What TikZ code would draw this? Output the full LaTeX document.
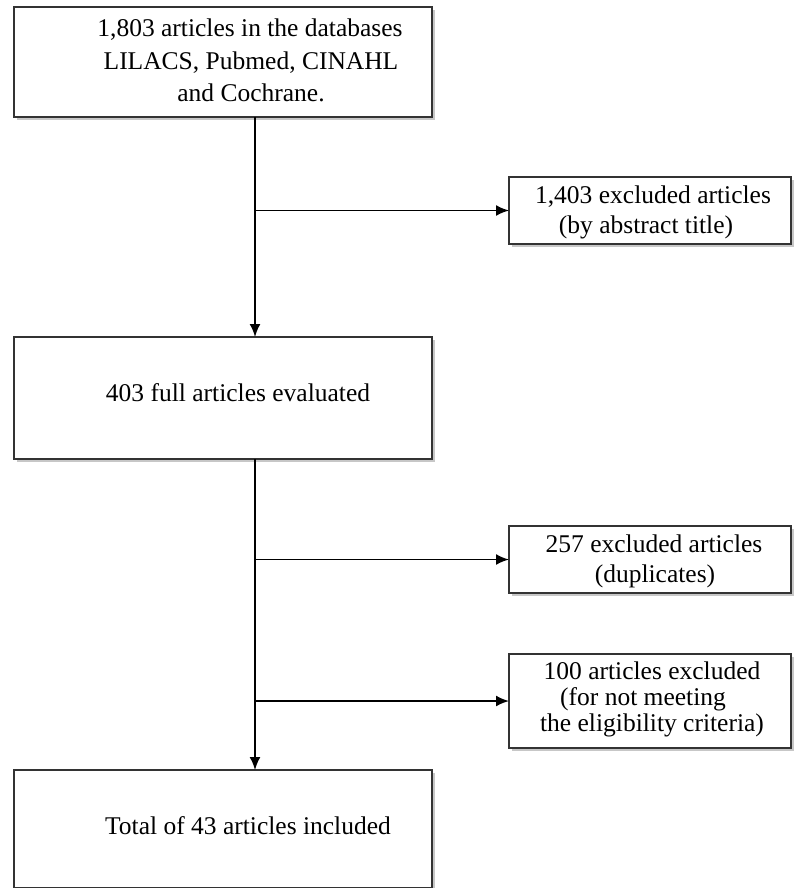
\documentclass[tikz,border=0pt]{standalone}
\usepackage{fontspec}
\setmainfont{Liberation Serif}
\usetikzlibrary{arrows.meta,shadows}
\begin{document}
\begin{tikzpicture}[x=1pt,y=1pt,
  box/.style={draw=black!80, line width=2.2pt, fill=white, inner sep=0pt, outer sep=0pt,
    anchor=north west,
    drop shadow={shadow xshift=3pt, shadow yshift=-3pt, fill=black, opacity=0.22}},
  txt/.style={anchor=base, inner sep=0pt, font=\fontsize{25.5}{33}\selectfont},
  arr/.style={draw=black, line width=1.9pt, -{Latex[length=13pt,width=11pt]}}]
\useasboundingbox (0,0) rectangle (794,-888);
\fill[white] (0,0) rectangle (794,-888);
\coordinate (trunk) at (255,0);
% left boxes
\node[box, minimum width=418, minimum height=110] (A) at (14,-7) {};
\node[box, minimum width=418, minimum height=122] (B) at (14,-337) {};
\node[box, minimum width=418, minimum height=118] (E) at (14,-770) {};
% right boxes
\node[box, minimum width=282, minimum height=67] (C) at (509,-177) {};
\node[box, minimum width=282, minimum height=67] (D) at (509,-526) {};
\node[box, minimum width=282, minimum height=94] (F) at (509,-654) {};
% texts
\node[txt] (a1) at (250,-37) {1,803 articles in the databases};
\node[txt] (a2) at (251,-70) {LILACS, Pubmed, CINAHL};
\node[txt] (a3) at (251,-102) {and Cochrane.};
\node[txt] (c1) at (653,-203) {1,403 excluded articles};
\node[txt] (c2) at (646,-233) {(by abstract title)};
\node[txt] (b1) at (238,-401) {403 full articles evaluated};
\node[txt] (d1) at (654,-552) {257 excluded articles};
\node[txt] (d2) at (655,-582) {(duplicates)};
\node[txt] (f1) at (652,-679) {100 articles excluded};
\node[txt] (f2) at (643,-705) {(for not meeting};
\node[txt] (f3) at (652,-731) {the eligibility criteria)};
\node[txt] (e1) at (248,-834) {Total of 43 articles included};
% connectors
\draw[arr] (A.south -| trunk) -- (B.north -| trunk);
\draw[arr] (C.west -| trunk) -- (C.west);
\draw[arr] (B.south -| trunk) -- (E.north -| trunk);
\draw[arr] (D.west -| trunk) -- (D.west);
\draw[arr] (F.west -| trunk) -- (F.west);
\end{tikzpicture}
\end{document}
